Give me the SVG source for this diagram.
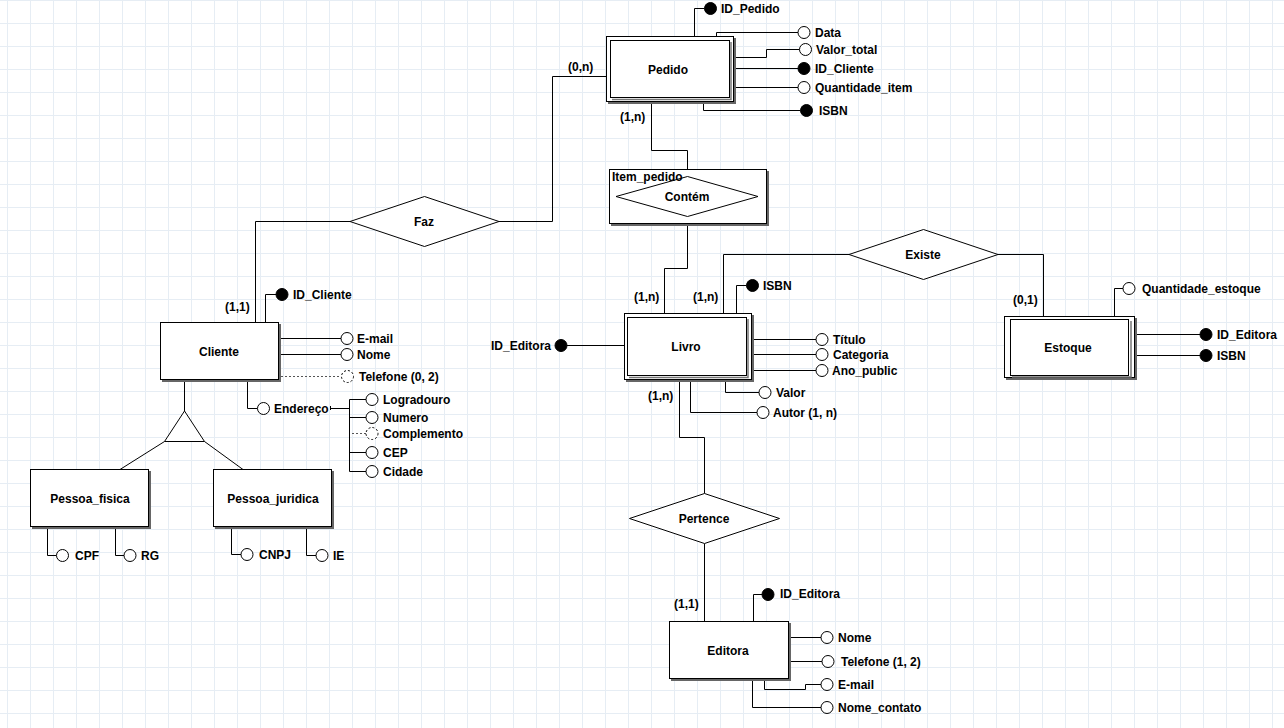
<svg xmlns="http://www.w3.org/2000/svg" width="1284" height="728" viewBox="0 0 1284 728">
<defs>
<pattern id="grid" patternUnits="userSpaceOnUse" x="7" y="0" width="23" height="23">
<path d="M0.5,0 V23 M0,0.5 H23" fill="none" stroke="#e6edf4" stroke-width="1"/>
</pattern>
</defs>
<style>
.t{font-family:"Liberation Sans",Arial,sans-serif;font-size:12px;font-weight:bold;fill:#000}
.m{text-anchor:middle}
.e{text-anchor:end}
.ln{fill:none;stroke:#000;stroke-width:1}
.dl{fill:none;stroke:#555;stroke-width:1;stroke-dasharray:2,2}
.box{fill:#fff;stroke:#000;stroke-width:1}
.sh{fill:#666}
.shl{fill:none;stroke:#777;stroke-width:1.5}
.rel{fill:#fff;stroke:#000;stroke-width:1}
.oc{fill:#fff;stroke:#000;stroke-width:1}
.dc{fill:#fff;stroke:#000;stroke-width:1;stroke-dasharray:2,2}
.fc{fill:#000;stroke:#000;stroke-width:1}
</style>
<rect width="1284" height="728" fill="#fff"/>
<rect width="1284" height="728" fill="url(#grid)"/>

<g id="connectors">
<path class="ln" d="M606,76.5 H552.5 V221.5 H499"/>
<path class="ln" d="M350,221.5 H255.5 V322"/>
<path class="ln" d="M651.5,102 V150.5 H687.5 V176.5"/>
<path class="ln" d="M687.5,216.5 V268.5 H664.5 V313"/>
<path class="ln" d="M723.5,313 V254.5 H849"/>
<path class="ln" d="M998,254.5 H1043.5 V316.5"/>
<path class="ln" d="M679.5,380 V437.5 H704.5 V493.5"/>
<path class="ln" d="M704.5,543.5 V621.5"/>
<path class="ln" d="M184.5,380 V411"/>
<path class="ln" d="M164.5,441.5 L120,469.5 M204.5,441.5 L243,469.5"/>
<!-- Pedido attributes -->
<path class="ln" d="M694.5,36 V8.5 H704.5"/>
<path class="ln" d="M716.5,36 V32.5 H798"/>
<path class="ln" d="M734,57.5 H766.5 V49.5 H799.5"/>
<path class="ln" d="M734,68.5 H798"/>
<path class="ln" d="M734,87.5 H798"/>
<path class="ln" d="M703.5,102 V110.5 H800.5"/>
<!-- Cliente attributes -->
<path class="ln" d="M265.5,322 V294.5 H276"/>
<path class="ln" d="M279,338.5 H341"/>
<path class="ln" d="M279,354.5 H341"/>
<path class="dl" d="M281,376.5 H341"/>
<path class="ln" d="M247.5,380 V408.5 H257.5"/>
<path class="ln" d="M330.5,406 V410 M331,408.5 H349.5 M349.5,399.5 V471.5 M349.5,399.5 H366 M349.5,417.5 H366 M349.5,452.5 H366 M349.5,471.5 H366"/>
<path class="dl" d="M352,433.5 H366"/>
<!-- Pessoa attributes -->
<path class="ln" d="M47.5,527 V555.5 H56.5"/>
<path class="ln" d="M115.5,527 V555.5 H124"/>
<path class="ln" d="M231.5,527 V554.5 H241"/>
<path class="ln" d="M306.5,527 V555.5 H316"/>
<!-- Livro attributes -->
<path class="ln" d="M736.5,313 V285.5 H746.5"/>
<path class="ln" d="M624,345.5 H567"/>
<path class="ln" d="M752,339.5 H816 M752,354.5 H816 M752,370.5 H816"/>
<path class="ln" d="M725.5,380 V392.5 H759"/>
<path class="ln" d="M690.5,380 V412.5 H757"/>
<!-- Estoque attributes -->
<path class="ln" d="M1114.5,317 V288.5 H1123"/>
<path class="ln" d="M1135,334.5 H1200 M1135,355.5 H1200"/>
<!-- Editora attributes -->
<path class="ln" d="M753.5,622 V594.5 H762"/>
<path class="ln" d="M789,637.5 H821"/>
<path class="ln" d="M789,661.5 H822"/>
<path class="ln" d="M764.5,679 V689.5 H805.5 V684.5 H821"/>
<path class="ln" d="M752.5,679 V707.5 H821"/>
</g>

<g id="cardinalities">
<text class="t" x="568" y="71">(0,n)</text>
<text class="t" x="225" y="311">(1,1)</text>
<text class="t" x="620" y="121">(1,n)</text>
<text class="t" x="634" y="301">(1,n)</text>
<text class="t" x="693" y="301">(1,n)</text>
<text class="t" x="1013" y="304">(0,1)</text>
<text class="t" x="648" y="400">(1,n)</text>
<text class="t" x="674" y="608">(1,1)</text>
</g>

<g id="pedido">
<rect class="sh" x="608" y="38" width="128" height="66"/>
<rect class="box" x="606.5" y="36.5" width="127" height="65"/>
<path class="shl" d="M731,42 V99.5 H612"/>
<rect class="box" x="610.5" y="40.5" width="119" height="57"/>
<text class="t m" x="668" y="74">Pedido</text>
</g>
<g id="pedido-attrs">
<circle class="fc" cx="710.5" cy="8.5" r="6"/><text class="t" x="721" y="12.5">ID_Pedido</text>
<circle class="oc" cx="804" cy="32.5" r="6"/><text class="t" x="815" y="37">Data</text>
<circle class="oc" cx="805.5" cy="49.5" r="6"/><text class="t" x="816" y="54">Valor_total</text>
<circle class="fc" cx="804" cy="68.5" r="6"/><text class="t" x="815" y="73">ID_Cliente</text>
<circle class="oc" cx="804" cy="87.5" r="6"/><text class="t" x="815" y="92">Quantidade_item</text>
<circle class="fc" cx="806.5" cy="110.5" r="6"/><text class="t" x="819" y="115">ISBN</text>
</g>

<g id="faz">
<polygon class="rel" points="350,221.5 424.5,196.5 499,221.5 424.5,246.5"/>
<text class="t m" x="424" y="226">Faz</text>
</g>

<g id="item-pedido">
<rect class="sh" x="611" y="171" width="158" height="55"/>
<rect class="box" x="609.5" y="169.5" width="157" height="54"/>
<polygon class="rel" points="616,196.5 687.5,176.5 758,196.5 687.5,216.5"/>
<text class="t" x="612" y="181">Item_pedido</text>
<text class="t m" x="687" y="201">Contém</text>
</g>

<g id="existe">
<polygon class="rel" points="849,254.5 923.5,229.5 998,254.5 923.5,279.5"/>
<text class="t m" x="923" y="259">Existe</text>
</g>

<g id="pertence">
<polygon class="rel" points="629.5,518.5 704.5,493.5 779.5,518.5 704.5,543.5"/>
<text class="t m" x="704" y="523">Pertence</text>
</g>

<g id="cliente">
<rect class="sh" x="162" y="324" width="119" height="58"/>
<rect class="box" x="160.5" y="322.5" width="118" height="57"/>
<text class="t m" x="219" y="356">Cliente</text>
</g>
<g id="cliente-attrs">
<circle class="fc" cx="282" cy="294.5" r="6"/><text class="t" x="293" y="299">ID_Cliente</text>
<circle class="oc" cx="347" cy="338.5" r="6"/><text class="t" x="357" y="343">E-mail</text>
<circle class="oc" cx="347" cy="354.5" r="6"/><text class="t" x="357" y="359">Nome</text>
<circle class="dc" cx="347.5" cy="376.5" r="6"/><text class="t" x="359" y="381">Telefone (0, 2)</text>
<circle class="oc" cx="263.5" cy="408.5" r="6"/><text class="t" x="274" y="413">Endereço</text>
<circle class="oc" cx="372" cy="399.5" r="6"/><text class="t" x="383" y="404">Logradouro</text>
<circle class="oc" cx="372" cy="417.5" r="6"/><text class="t" x="383" y="422">Numero</text>
<circle class="dc" cx="372" cy="433.5" r="6"/><text class="t" x="383" y="438">Complemento</text>
<circle class="oc" cx="372" cy="452.5" r="6"/><text class="t" x="383" y="457">CEP</text>
<circle class="oc" cx="372" cy="471.5" r="6"/><text class="t" x="383" y="476">Cidade</text>
</g>

<g id="generalizacao">
<polygon class="rel" points="184.5,411 164.5,441.5 204.5,441.5"/>
</g>

<g id="pessoa-fisica">
<rect class="sh" x="32" y="471" width="119" height="58"/>
<rect class="box" x="30.5" y="469.5" width="118" height="57"/>
<text class="t m" x="90" y="503">Pessoa_fisica</text>
<circle class="oc" cx="62.5" cy="555.5" r="6"/><text class="t" x="75" y="560">CPF</text>
<circle class="oc" cx="130" cy="555.5" r="6"/><text class="t" x="141" y="560">RG</text>
</g>

<g id="pessoa-juridica">
<rect class="sh" x="215" y="471" width="119" height="58"/>
<rect class="box" x="213.5" y="469.5" width="118" height="57"/>
<text class="t m" x="273" y="503">Pessoa_juridica</text>
<circle class="oc" cx="247" cy="554.5" r="6"/><text class="t" x="259" y="559">CNPJ</text>
<circle class="oc" cx="322" cy="555.5" r="6"/><text class="t" x="333" y="560">IE</text>
</g>

<g id="livro">
<rect class="sh" x="626" y="315" width="128" height="67"/>
<rect class="box" x="624.5" y="313.5" width="127" height="66"/>
<path class="shl" d="M748,319 V377.5 H629"/>
<rect class="box" x="627.5" y="317.5" width="119" height="58"/>
<text class="t m" x="686" y="351">Livro</text>
</g>
<g id="livro-attrs">
<circle class="fc" cx="752.5" cy="285.5" r="6"/><text class="t" x="763" y="290">ISBN</text>
<circle class="fc" cx="561" cy="345.5" r="6"/><text class="t e" x="551" y="350">ID_Editora</text>
<circle class="oc" cx="822" cy="339.5" r="6"/><text class="t" x="833" y="344">Título</text>
<circle class="oc" cx="822" cy="354.5" r="6"/><text class="t" x="833" y="359">Categoria</text>
<circle class="oc" cx="822" cy="370.5" r="6"/><text class="t" x="832" y="375">Ano_public</text>
<circle class="oc" cx="765" cy="392.5" r="6"/><text class="t" x="776" y="397">Valor</text>
<circle class="oc" cx="763" cy="412.5" r="6"/><text class="t" x="773" y="417">Autor (1, n)</text>
</g>

<g id="estoque">
<rect class="sh" x="1006" y="318" width="131" height="62"/>
<rect class="box" x="1004.5" y="316.5" width="130" height="61"/>
<path class="shl" d="M1131,321 V377 H1012"/>
<rect class="box" x="1010.5" y="319.5" width="118" height="56"/>
<text class="t m" x="1068" y="352">Estoque</text>
</g>
<g id="estoque-attrs">
<circle class="oc" cx="1129" cy="288.5" r="6"/><text class="t" x="1142" y="293">Quantidade_estoque</text>
<circle class="fc" cx="1206" cy="334.5" r="6"/><text class="t" x="1217" y="339">ID_Editora</text>
<circle class="fc" cx="1206" cy="355.5" r="6"/><text class="t" x="1217" y="360">ISBN</text>
</g>

<g id="editora">
<rect class="sh" x="671" y="623" width="120" height="58"/>
<rect class="box" x="669.5" y="621.5" width="119" height="57"/>
<text class="t m" x="728" y="655">Editora</text>
</g>
<g id="editora-attrs">
<circle class="fc" cx="768" cy="594.5" r="6"/><text class="t" x="780" y="598">ID_Editora</text>
<circle class="oc" cx="827" cy="637.5" r="6"/><text class="t" x="838" y="642">Nome</text>
<circle class="oc" cx="828" cy="661.5" r="6"/><text class="t" x="841" y="666">Telefone (1, 2)</text>
<circle class="oc" cx="827" cy="684.5" r="6"/><text class="t" x="838" y="689">E-mail</text>
<circle class="oc" cx="827" cy="707.5" r="6"/><text class="t" x="838" y="712">Nome_contato</text>
</g>
</svg>
